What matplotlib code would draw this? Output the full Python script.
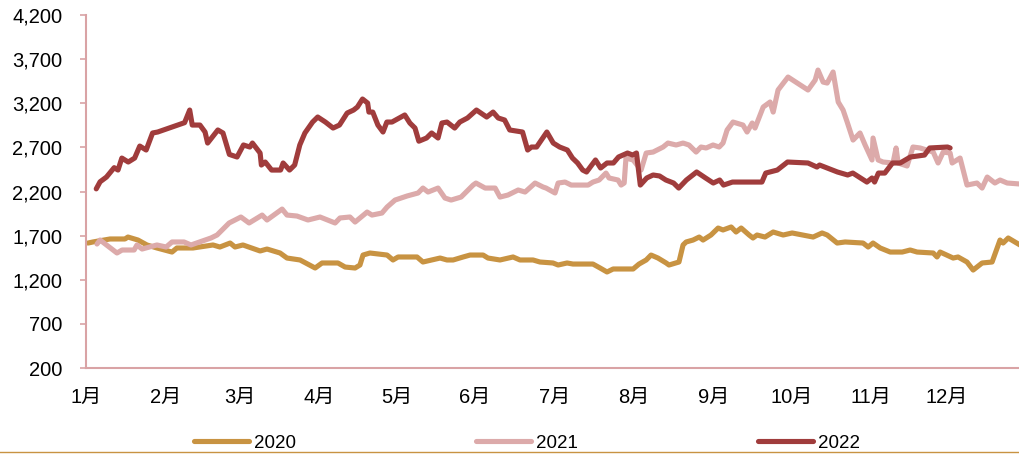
import matplotlib
matplotlib.use("Agg")
import matplotlib.pyplot as plt
from matplotlib.lines import Line2D
from matplotlib.ticker import FuncFormatter

plt.rcParams['font.family'] = ['Liberation Sans', 'Noto Sans CJK SC', 'DejaVu Sans']

months = ['1月', '2月', '3月', '4月', '5月', '6月', '7月', '8月', '9月', '10月', '11月', '12月']
month_pos = [0, 31, 60, 91, 121.5, 152, 183, 214, 245, 275.5, 306.5, 336]

# 2020
days20 = [0.8, 2.7, 9.4, 15.2, 16.4, 20.3, 23.8, 27.7, 33.6, 35.5, 41.8, 49.6, 52.3, 56.3,
          58.2, 61.3, 68, 70.7, 75.8, 78.5, 83.6, 89.5, 92.2, 98.4, 101.2, 105.1, 107, 108.2,
          110.9, 117.6, 119.9, 121.9, 129.3, 131.6, 138.3, 141, 143.4, 147.3, 150, 155.1, 157,
          161.7, 166.8, 169.5, 174.6, 177.3, 182.4, 184.4, 187.9, 190.2, 198, 200.8, 203.5,
          205.9, 213.7, 216, 218.8, 220.7, 223.4, 226.6, 227.7, 231.6, 233.2, 234.4, 237.1,
          239.5, 241, 244.1, 246.9, 248.8, 252, 253.9, 255.9, 259, 260.5, 262.1, 265.2, 268.4,
          272.3, 275.8, 284, 287.5, 289.5, 293.4, 296.5, 303.5, 305.5, 307.4, 310.2, 314.1,
          318.8, 321.9, 324.6, 330.9, 332.4, 333.6, 338.7, 340.6, 344.1, 346.5, 350, 353.9,
          357, 358.2, 360.2, 364.8]
vals20 = [1616, 1628, 1662, 1662, 1684, 1650, 1594, 1560, 1514, 1560, 1560, 1594, 1571, 1616,
          1571, 1594, 1526, 1548, 1503, 1446, 1424, 1333, 1390, 1390, 1344, 1333, 1367, 1480,
          1503, 1480, 1424, 1458, 1458, 1401, 1446, 1424, 1424, 1458, 1480, 1480, 1446,
          1424, 1458, 1424, 1424, 1401, 1390, 1367, 1390, 1378, 1378, 1333, 1288,
          1322, 1322, 1378, 1424, 1480, 1446, 1390, 1367, 1401, 1594, 1628, 1650,
          1684, 1650, 1707, 1786, 1764, 1798, 1741, 1786, 1707, 1673, 1707, 1684, 1741,
          1707, 1730, 1684, 1730, 1707, 1616, 1628, 1616, 1571, 1616, 1560, 1514,
          1514, 1537, 1514, 1503, 1458, 1514, 1446, 1458, 1401, 1310, 1390, 1401,
          1650, 1616, 1673, 1594]

# 2021
days21 = [4.3, 5.5, 12.1, 14.1, 18.8, 19.9, 21.9, 27.7, 31.3, 33.6, 38.3, 41, 48.8, 51.2,
          55.9, 60.5, 63.7, 65.6, 68.8, 70.7, 76.6, 78.5, 82.4, 86.7, 91.4, 97.3, 99.2, 103.1,
          105.1, 109.8, 111.7, 115.6, 117.6, 120.7, 125.4, 129.7, 131.6, 133.6, 137.5, 140.2,
          142.6, 146.5, 151.2, 152.3, 155.9, 159.8, 161.7, 164.8, 168.8, 171.5, 175.4, 178.5,
          179.7, 183.2, 184.4, 187.1, 189.5, 196.1, 198, 200.4, 203.1, 204.3, 207.8, 209,
          210.2, 210.9, 213.7, 216.8, 218.8, 221.5, 225.4, 227.3, 230.5, 233.2, 235.5, 238.3,
          240.2, 242.2, 244.9, 247.3, 248.8, 250.4, 252.7, 256.6, 258.2, 260.2, 261.3, 264.5,
          267.2, 268.4, 270.3, 274.2, 282, 284.8, 285.9, 287.9, 289.5, 291.8, 293.8, 295.7,
          297.3, 299.6, 302.3, 304.3, 307, 307.4, 309.4, 311.3, 315.2, 316.4, 317.2, 320.7,
          323, 325.8, 330.9, 332.8, 334.8, 337.5, 338.3, 341.4, 344.1, 348, 350, 352, 355, 357,
          359.8, 364.8]
vals21 = [1605, 1650, 1503, 1537, 1537, 1594, 1548, 1594, 1571, 1628, 1628, 1594, 1673, 1707,
          1843, 1911, 1843, 1877, 1933, 1877, 2001, 1933, 1922, 1877, 1911, 1843, 1900, 1911,
          1854, 1967, 1933, 1956, 2024, 2103, 2149, 2183, 2239, 2194, 2239, 2126,
          2103, 2137, 2273, 2296, 2239, 2239, 2137, 2160, 2217, 2194, 2296, 2251,
          2239, 2183, 2296, 2307, 2273, 2273, 2307, 2330, 2409, 2353, 2330, 2273,
          2296, 2579, 2557, 2443, 2636, 2647, 2704, 2749, 2727, 2749, 2727, 2647,
          2704, 2693, 2727, 2704, 2749, 2897, 2987, 2953, 2874, 2976, 2919, 3157,
          3214, 3100, 3350, 3497, 3350, 3463, 3576, 3440, 3429, 3554, 3214, 3123,
          2987, 2783, 2863, 2727, 2557, 2806, 2557, 2534, 2523, 2693, 2523, 2489,
          2704, 2693, 2647, 2523, 2647, 2636, 2523, 2579, 2273, 2296, 2239, 2364, 2296, 2330,
          2296, 2285]

# 2022
days22 = [4, 5.5, 8, 11, 12.5, 14, 16.5, 19, 21, 23.5,
          26, 28, 38.5, 40.5, 41.5, 44.5, 46.5, 47.5, 51.5, 53.5,
          56, 59, 61.5, 64, 65, 68, 68.5, 70, 72.5, 76,
          77, 79.5, 81.5, 83.5, 85.5, 88.5, 90.5, 93.5, 96.5, 99,
          102, 104.5, 106, 108, 110, 110.5, 112, 114, 116, 117.5,
          119.5, 124.5, 126.5, 128.5, 130, 133, 135, 137.5, 139, 141,
          144, 146, 149, 152.5, 156.5, 159, 161, 163.5, 165.5, 170.5,
          172.5, 174, 176, 180, 182.5, 185, 188, 190, 192, 194,
          195.5, 199, 201, 203.5, 206, 208, 211.5, 213.5, 215, 216.5,
          219, 221.5, 224, 226.5, 229.5, 231.5, 234.5, 238.5, 242, 245,
          247.5, 249, 252.5, 258, 262, 264, 265.5, 270, 274, 282,
          285.5, 286.5, 293.5, 297.5, 299.5, 305, 307, 308, 309.5, 312,
          315, 318, 322, 327.5, 329.5, 336.5, 337.5]
vals22 = [2230, 2310, 2364, 2470, 2443, 2579, 2534, 2579, 2715, 2670,
          2863, 2874, 2980, 3123, 2953, 2953, 2874, 2749, 2897, 2863,
          2620, 2591, 2727, 2704, 2749, 2636, 2500, 2534, 2443, 2443,
          2523, 2443, 2500, 2727, 2863, 2987, 3044, 2987, 2919, 2953,
          3089, 3123, 3157, 3248, 3202, 3100, 3100, 2953, 2874, 2987,
          2987, 3067, 2976, 2919, 2770, 2806, 2863, 2806, 2976, 2987,
          2919, 2987, 3033, 3123, 3044, 3100, 3033, 3010, 2897, 2874,
          2670, 2704, 2704, 2874, 2749, 2704, 2670, 2579, 2523, 2443,
          2421, 2557, 2466, 2523, 2523, 2591, 2636, 2613, 2636, 2273,
          2353, 2387, 2376, 2330, 2296, 2239, 2330, 2421, 2353, 2296,
          2330, 2273, 2307, 2307, 2307, 2307, 2409, 2443, 2534, 2523,
          2477, 2500, 2421, 2387, 2409, 2307, 2353, 2307, 2409, 2409,
          2523, 2523, 2591, 2613, 2693, 2704, 2693]

yticks = [200, 700, 1200, 1700, 2200, 2700, 3200, 3700, 4200]

c20 = '#C89342'
c21 = '#DCAAAA'
c22 = '#A03C3C'
axis_color = '#D9A3A5'

fig = plt.figure(figsize=(10.2, 4.55), dpi=100)
ax = fig.add_axes([86 / 1020, 87 / 455, 934 / 1020, 353 / 455])

kw = dict(linewidth=3.7, solid_capstyle='round', solid_joinstyle='round')
ax.plot(days20, vals20, color=c20, label='2020', **kw)
ax.plot(days21, vals21, color=c21, label='2021', **kw)
ax.plot(days22, vals22, color=c22, label='2022', **kw)

ax.set_xlim(0, 364.8)
ax.set_ylim(200, 4200)
ax.set_yticks(yticks)
ax.yaxis.set_major_formatter(FuncFormatter(lambda v, p: f'{int(v):,}'))
ax.set_xticks(month_pos)
ax.set_xticklabels(months)

for s in ['top', 'right']:
    ax.spines[s].set_visible(False)
for s in ['left', 'bottom']:
    ax.spines[s].set_color(axis_color)
    ax.spines[s].set_linewidth(1.5)

ax.tick_params(axis='y', direction='out', length=4, width=1.2, color=axis_color,
               labelsize=14.5, pad=13)
ax.tick_params(axis='x', length=0, labelsize=14.5, pad=14)

fig.legend(loc='center', bbox_to_anchor=(527 / 1020, 1 - 443 / 455), ncol=3,
           frameon=False, fontsize=13.5, handlelength=2.95, handletextpad=0.25,
           columnspacing=9.6)

# thin rule along the bottom edge
fig.add_artist(Line2D([0, 1], [0.0055, 0.0055], transform=fig.transFigure,
                      color=c20, linewidth=1))

fig.savefig('out.png', dpi=100)
